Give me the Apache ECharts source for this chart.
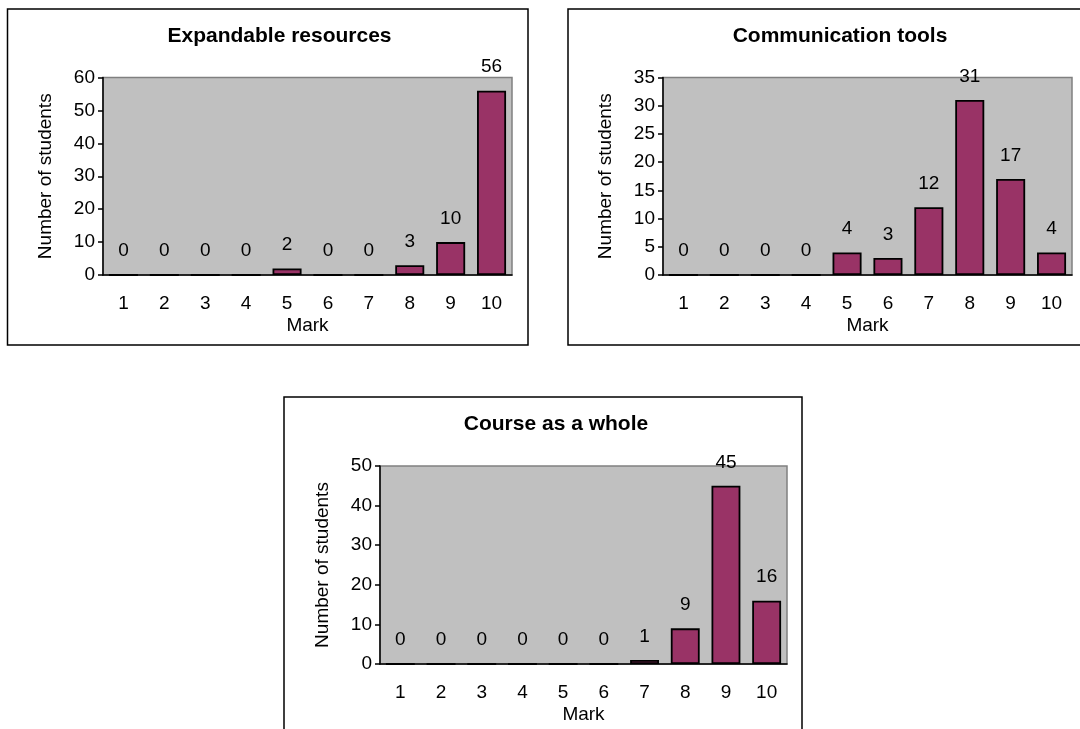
<!DOCTYPE html>
<html>
<head>
<meta charset="utf-8">
<script src="https://cdn.jsdelivr.net/npm/echarts@6/dist/echarts.min.js"></script>
<style>
  html, body { margin: 0; padding: 0; background: #fff; }
  #chart { width: 1080px; height: 729px; }
</style>
</head>
<body>
<div id="chart"></div>
<script>
// marks 1..10
const marks = ['1', '2', '3', '4', '5', '6', '7', '8', '9', '10'];

const expandable = [0, 0, 0, 0, 2, 0, 0, 3, 10, 56];
const communication = [0, 0, 0, 0, 4, 3, 12, 31, 17, 4];
const courseWhole = [0, 0, 0, 0, 0, 0, 1, 9, 45, 16];

const titles = ['Expandable resources', 'Communication tools', 'Course as a whole'];
const yMax = [60, 35, 50];
const yStep = [10, 5, 10];

const FONT = "'Liberation Sans', Arial, sans-serif";

// panel boxes (outer frame) and plot areas
const boxes = [
  { x: 7.5, y: 9, w: 520.5, h: 336 },
  { x: 568, y: 9, w: 520, h: 336 },
  { x: 284, y: 397, w: 518, h: 336 }
];
const grids = [
  { left: 103, top: 77.5, width: 409, height: 197.5 },
  { left: 663, top: 77.5, width: 409, height: 197.5 },
  { left: 380, top: 466, width: 407, height: 198 }
];
const seriesData = [expandable, communication, courseWhole];

let chart = echarts.init(document.getElementById('chart'));

let graphic = [];
let xAxis = [];
let yAxis = [];
let series = [];

boxes.forEach(function (b, i) {
  graphic.push({
    type: 'rect',
    shape: { x: b.x, y: b.y, width: b.w, height: b.h },
    style: { fill: 'none', stroke: '#000', lineWidth: 1.5 }
  });
  graphic.push({
    type: 'text',
    x: b.x + 272,
    y: b.y + 27,
    style: {
      text: titles[i],
      font: 'bold 21px ' + FONT,
      fill: '#000',
      align: 'center',
      verticalAlign: 'middle'
    }
  });
});

let gridOpts = grids.map(function (g) {
  return {
    left: g.left, top: g.top, width: g.width, height: g.height,
    show: true,
    backgroundColor: '#c0c0c0',
    borderColor: '#808080',
    borderWidth: 1.5
  };
});

for (let i = 0; i < 3; i++) {
  xAxis.push({
    type: 'category',
    gridIndex: i,
    data: marks,
    name: 'Mark',
    nameLocation: 'middle',
    nameGap: 41,
    nameTextStyle: { fontFamily: FONT, fontSize: 19, color: '#000' },
    axisLine: { lineStyle: { color: '#000', width: 1.5 } },
    axisTick: { show: false },
    axisLabel: { fontFamily: FONT, fontSize: 19, color: '#000', margin: 19 }
  });
  yAxis.push({
    type: 'value',
    gridIndex: i,
    min: 0,
    max: yMax[i],
    interval: yStep[i],
    name: 'Number of students',
    nameLocation: 'middle',
    nameGap: 48,
    nameTextStyle: { fontFamily: FONT, fontSize: 19, color: '#000' },
    splitLine: { show: false },
    axisLine: { show: true, lineStyle: { color: '#000', width: 1.5 } },
    axisTick: { show: true, length: 5, lineStyle: { color: '#000', width: 1.5 } },
    axisLabel: { fontFamily: FONT, fontSize: 19, color: '#000', margin: 8 }
  });
  series.push({
    type: 'bar',
    xAxisIndex: i,
    yAxisIndex: i,
    data: seriesData[i],
    barWidth: '71%',
    itemStyle: { color: '#993366', borderColor: '#000', borderWidth: 1.8 },
    label: {
      show: true,
      position: 'top',
      distance: 14,
      fontFamily: FONT,
      fontSize: 19,
      color: '#000'
    }
  });
}

let option = {
  animation: false,
  backgroundColor: '#fff',
  graphic: graphic,
  grid: gridOpts,
  xAxis: xAxis,
  yAxis: yAxis,
  series: series
};
chart.setOption(option);
</script>
</body>
</html>
